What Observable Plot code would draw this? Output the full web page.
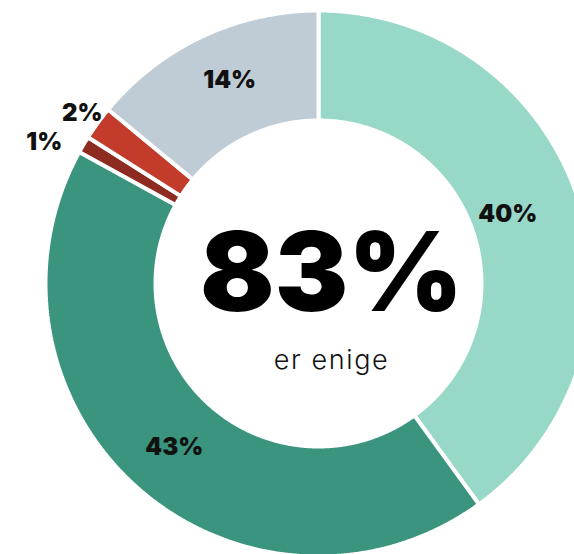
<!DOCTYPE html>
<html><head><meta charset="utf-8">
<script src="https://cdn.jsdelivr.net/npm/d3@7"></script>
<script src="https://cdn.jsdelivr.net/npm/@observablehq/plot@0.6"></script>
<style>
body{margin:0;background:#fff;overflow:hidden}
#chart{width:574px;height:554px}
</style>
</head><body><div id="chart"></div>
<script>
// Data (clockwise from 12 o'clock)
const categories = ["Helt enig", "Delvis enig", "Helt uenig", "Delvis uenig", "Vet ikke"];
const values = [40, 43, 1, 2, 14];
const labels = ["40%", "43%", "1%", "2%", "14%"];
const colors = ["#98d8c8", "#3a947e", "#8e2b20", "#c23b2b", "#bfccd6"];
const centerValue = "83%";
const centerLabel = "er enige";

// Layout
const W = 574, H = 554, cx = 318, cy = 283;
const R = 273, r0 = 163;
const total = d3.sum(values);
let acc = 0;
const slices = values.map((v, i) => {
  const a0 = acc / total * 2 * Math.PI; acc += v;
  const a1 = acc / total * 2 * Math.PI;
  return {cat: categories[i], v, a0, a1, i, label: labels[i]};
});
const poly = [];
slices.forEach(s => {
  const n = Math.max(4, Math.ceil((s.a1 - s.a0) / 0.005));
  const pts = [];
  for (let k = 0; k <= n; k++) { const a = s.a0 + (s.a1 - s.a0) * k / n; pts.push([Math.sin(a) * R, -Math.cos(a) * R]); }
  for (let k = n; k >= 0; k--) { const a = s.a0 + (s.a1 - s.a0) * k / n; pts.push([Math.sin(a) * r0, -Math.cos(a) * r0]); }
  pts.push(pts[0]);
  pts.forEach(p => poly.push({cat: s.cat, x: p[0], y: p[1]}));
});
const labelData = slices.map(s => {
  const m = (s.a0 + s.a1) / 2;
  const small = s.v < 5;
  const rr = small ? (s.v < 1.5 ? 300 : 292) : (R + r0) / 2;
  return {x: Math.sin(m) * rr, y: -Math.cos(m) * rr, text: s.label, i: s.i};
});
const nudgeX = [-18, 0, -16, 0, 4];
const nudgeY = [-2, 0, 12, 1, -6];

const font = "Inter, 'Open Sans', sans-serif";
const plot = Plot.plot({
  width: W, height: H,
  margin: 0,
  x: {domain: [-cx, W - cx], axis: null},
  y: {domain: [-cy, H - cy], reverse: true, axis: null},
  color: {domain: categories, range: colors},
  style: {fontFamily: font, background: "white"},
  marks: [
    Plot.line(poly, {x: "x", y: "y", z: "cat", fill: "cat", stroke: "white", strokeWidth: 4, strokeLinejoin: "miter", curve: "linear"}),
    ...labelData.map(d => Plot.text([d], {x: "x", y: "y", text: "text", fontSize: 24, fontWeight: 900, fill: "#111", dx: nudgeX[d.i], dy: nudgeY[d.i]})),
    Plot.text([centerValue], {x: () => 0, y: () => 0, text: d => d, fontSize: 110, fontWeight: 900, fill: "#000", dx: 13, dy: -8}),
    Plot.text([centerLabel], {x: () => 0, y: () => 0, text: d => d, fontSize: 27, fontWeight: 300, fill: "#111", dx: 13, dy: 77})
  ]
});
d3.select(plot).selectAll("text").filter(function() { return this.textContent === centerLabel; })
  .attr("letter-spacing", "1.6px");
document.getElementById("chart").appendChild(plot);
</script>
</body></html>
